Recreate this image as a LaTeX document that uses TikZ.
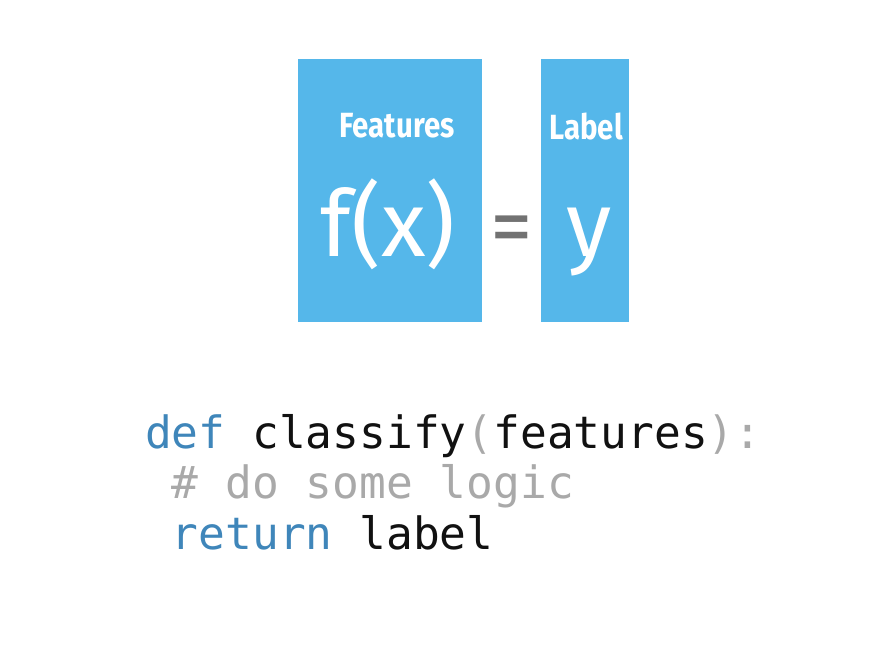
\documentclass[tikz,border=0pt]{standalone}
\usepackage{fontspec}
\setmainfont{Fira Sans}
\newfontfamily\headfont[FakeStretch=0.84]{Fira Sans}
\setmonofont{DejaVu Sans Mono}
\definecolor{boxblue}{HTML}{55B7EA}
\definecolor{kwblue}{HTML}{3F86BA}
\definecolor{codegray}{HTML}{A9A9A9}
\definecolor{eqgray}{HTML}{727272}
\definecolor{codeblack}{HTML}{111111}
\begin{document}
\begin{tikzpicture}[x=1pt,y=-1pt,
  bluebox/.style={fill=boxblue,draw=none,inner sep=0pt},
  headtxt/.style={text=white,font=\headfont\bfseries\fontsize{35}{38}\selectfont,inner sep=0pt,anchor=base},
  bigtxt/.style={text=white,font=\fontsize{92}{100}\selectfont,inner sep=0pt,anchor=base},
  codetxt/.style={font=\ttfamily\fontsize{44.5}{50}\selectfont,inner sep=0pt,anchor=base west}]
\useasboundingbox (0,0) rectangle (888,648);
\fill[white] (0,0) rectangle (888,648);
\path[bluebox] (298,59) rectangle (482,322) coordinate (fbox);
\path[bluebox] (541,59) rectangle (629,322) coordinate (lbox);
\node[headtxt] (feat) at (397,137) {Features};
\node[headtxt] (lab) at (586,139) {Label};
\node[bigtxt] (fx) at (388,256) {f(x)};
\node[text=eqgray,font=\fontsize{85}{95}\selectfont,inner sep=0pt,anchor=base] (eq) at (512,255) {=};
\node[bigtxt] (y) at (589,256) {y};
\node[codetxt] (l1) at (145,448) {\textcolor{kwblue}{def} \textcolor{codeblack}{classify}\textcolor{codegray}{(}\textcolor{codeblack}{features}\textcolor{codegray}{):}};
\node[codetxt] (l2) at (145,498) {\textcolor{codegray}{\ \# do some logic}};
\node[codetxt] (l3) at (145,549) {\textcolor{kwblue}{\ return} \textcolor{codeblack}{label}};
\end{tikzpicture}
\end{document}
